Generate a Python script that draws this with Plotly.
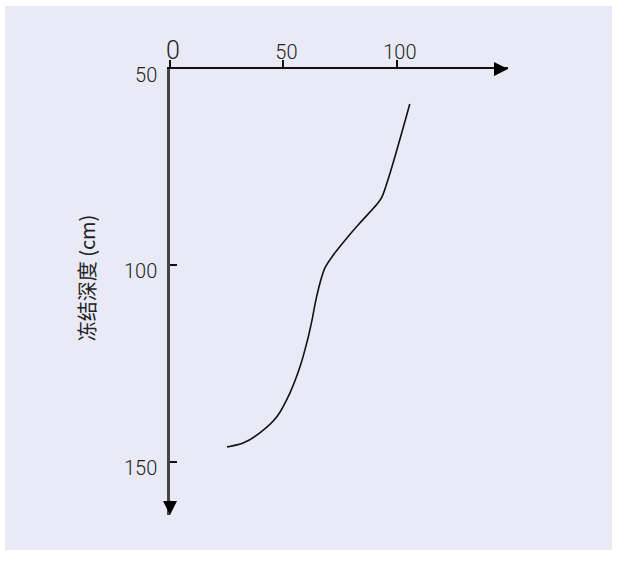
import plotly.graph_objects as go

# Freezing depth profile (x: 0-100 scale, y: depth in cm)
curve_x = [105.7, 93.4, 91.2, 83.7, 78.0, 72.7, 68.3, 66.1, 64.3, 62.6,
           60.6, 57.3, 52.9, 47.1, 39.6, 32.2, 25.1]
curve_y = [58.9, 82.6, 84.4, 89.2, 93.0, 96.8, 100.6, 104.5, 108.8, 113.9,
           119.0, 125.8, 132.4, 138.5, 142.6, 145.2, 146.2]

x_ticks = [0, 50, 100]
x_tick_text = ['<span style="font-size:25px">0</span>', "50", "100"]
y_ticks = [50, 100, 150]
y_tick_text = ["50", "100", "150"]
y_title = "冻结深度 (cm)"

x_range = [0, 149]
y_range = [163.5, 50]

BG = "#E9EAF6"
TICK_FONT = dict(family="Roboto, Liberation Sans, Arial", size=20, color="#222", weight=300)

fig = go.Figure()
fig.add_trace(go.Scatter(
    x=curve_x, y=curve_y, mode="lines",
    line=dict(color="#111", width=1.6, shape="spline", smoothing=0.8),
    hoverinfo="skip", showlegend=False,
))

fig.update_layout(
    width=619, height=564,
    margin=dict(l=170, r=111, t=69, b=49, autoexpand=False),
    paper_bgcolor="white",
    plot_bgcolor=BG,
    template="none",
    xaxis=dict(
        range=x_range, side="top", showgrid=False, zeroline=False,
        showline=True, linecolor="#111", linewidth=2,
        tickmode="array", tickvals=x_ticks, ticktext=x_tick_text,
        ticks="outside", ticklen=7, tickwidth=1.5, tickcolor="#111",
        tickfont=TICK_FONT, ticklabelstandoff=-7, ticklabelshift=3,
        automargin=False,
    ),
    yaxis=dict(
        range=y_range, showgrid=False, zeroline=False,
        showline=True, linecolor="#444", linewidth=2.5,
        tickmode="array", tickvals=y_ticks, ticktext=y_tick_text,
        ticks="inside", ticklen=7, tickwidth=1.5, tickcolor="#111",
        tickfont=TICK_FONT, ticklabelshift=-6, ticklabelstandoff=6,
        automargin=False,
    ),
    shapes=[dict(
        type="rect", xref="paper", yref="paper",
        x0=-0.488, x1=1.3077, y0=-0.0785, y1=1.1413,
        fillcolor=BG, line=dict(width=0), layer="below",
    )],
    annotations=[
        # arrowheads at the ends of both axes
        dict(x=x_range[1], y=y_range[1], ax=x_range[1] - 6, ay=y_range[1],
             xref="x", yref="y", axref="x", ayref="y", text="",
             showarrow=True, arrowhead=2, arrowsize=1.4, arrowwidth=2,
             arrowcolor="#000", standoff=0),
        dict(x=x_range[0], y=y_range[0], ax=x_range[0], ay=y_range[0] - 4,
             xref="x", yref="y", axref="x", ayref="y", text="",
             showarrow=True, arrowhead=2, arrowsize=1.4, arrowwidth=2,
             arrowcolor="#000", standoff=0),
        dict(x=-0.248, y=0.531, xref="paper", yref="paper", text=y_title,
             textangle=-90, showarrow=False, xanchor="center", yanchor="middle",
             font=dict(family="Noto Sans CJK SC", size=20, color="#222")),
    ],
)

fig.write_html("out.html")
